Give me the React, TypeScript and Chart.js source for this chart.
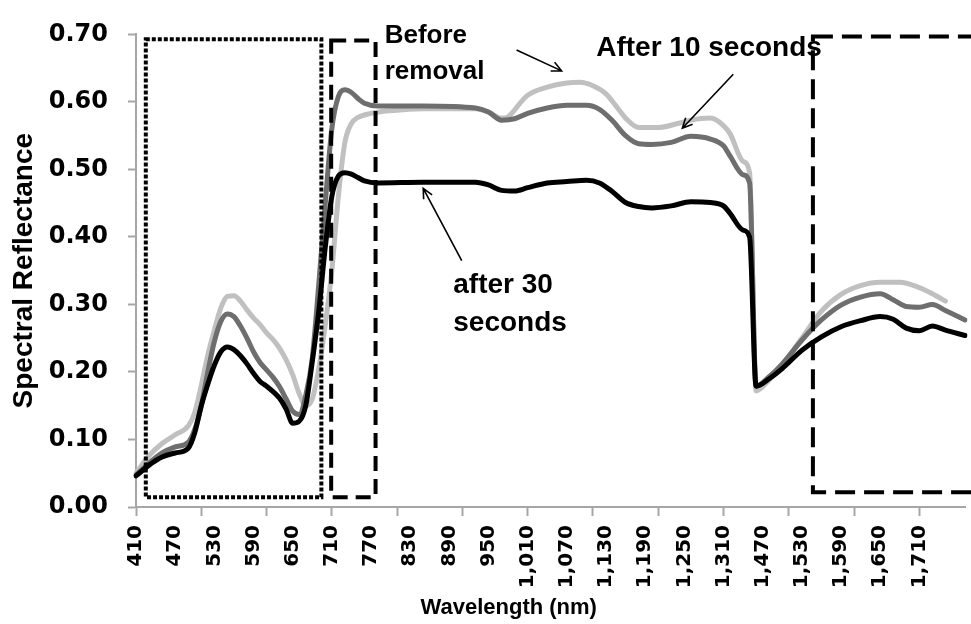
import React, { useEffect, useRef } from 'react';
import { Chart, registerables } from 'chart.js';

Chart.register(...registerables);

// ---- categories (wavelength, nm) ----
const categoryRanges: [number, number][] = [[410, 1350], [1460, 1780]];
const categoryStep = 10;
const wavelengths: number[] = [];
for (const [a, b] of categoryRanges) for (let w = a; w <= b; w += categoryStep) wavelengths.push(w);

const tickLabels = [410, 470, 530, 590, 650, 710, 770, 830, 890, 950, 1010, 1070, 1130, 1190, 1250, 1310, 1470, 1530, 1590, 1650, 1710];
const tickMarkEvery = 10;
const yTicksMax = 0.7;

// ---- series ----
const wl30 = [410, 430, 450, 470, 490, 500, 510, 520, 530, 540, 550, 560, 570, 580, 590, 600, 610, 620, 630, 640, 650, 660, 670, 680, 690, 700, 710, 720, 730, 740, 750, 760, 780, 850, 930, 950, 970, 990, 1010, 1040, 1070, 1100, 1120, 1140, 1160, 1180, 1200, 1230, 1260, 1290, 1310, 1320, 1340, 1350, 1460, 1480, 1500, 1530, 1560, 1590, 1620, 1650, 1670, 1690, 1710, 1730, 1750, 1780];
const refl30 = [0.046, 0.062, 0.074, 0.080, 0.087, 0.110, 0.150, 0.182, 0.210, 0.230, 0.237, 0.233, 0.224, 0.212, 0.198, 0.186, 0.179, 0.171, 0.161, 0.145, 0.124, 0.127, 0.150, 0.215, 0.290, 0.385, 0.460, 0.490, 0.495, 0.493, 0.488, 0.483, 0.480, 0.481, 0.481, 0.477, 0.469, 0.468, 0.473, 0.480, 0.482, 0.484, 0.480, 0.467, 0.451, 0.445, 0.443, 0.446, 0.452, 0.451, 0.446, 0.435, 0.410, 0.400, 0.179, 0.190, 0.205, 0.232, 0.252, 0.267, 0.276, 0.282, 0.278, 0.265, 0.261, 0.268, 0.262, 0.254];

const wl10 = [410, 430, 450, 470, 490, 500, 510, 520, 530, 540, 550, 560, 570, 580, 590, 600, 610, 620, 630, 640, 650, 660, 670, 680, 690, 700, 710, 720, 730, 740, 750, 760, 780, 850, 930, 950, 970, 990, 1010, 1040, 1070, 1100, 1120, 1140, 1160, 1180, 1200, 1230, 1260, 1290, 1310, 1320, 1340, 1350, 1460, 1480, 1500, 1530, 1560, 1590, 1620, 1650, 1670, 1690, 1710, 1730, 1750, 1780];
const refl10 = [0.047, 0.065, 0.080, 0.089, 0.096, 0.115, 0.150, 0.200, 0.245, 0.275, 0.286, 0.282, 0.268, 0.250, 0.230, 0.214, 0.203, 0.192, 0.178, 0.160, 0.142, 0.137, 0.165, 0.220, 0.330, 0.450, 0.560, 0.608, 0.618, 0.614, 0.605, 0.598, 0.594, 0.594, 0.591, 0.585, 0.573, 0.575, 0.583, 0.591, 0.595, 0.595, 0.589, 0.572, 0.550, 0.538, 0.537, 0.540, 0.549, 0.545, 0.535, 0.520, 0.492, 0.480, 0.179, 0.193, 0.212, 0.247, 0.277, 0.299, 0.311, 0.316, 0.307, 0.297, 0.296, 0.300, 0.291, 0.277];

const wlBefore = [410, 430, 450, 470, 490, 500, 510, 520, 530, 540, 550, 560, 570, 580, 590, 600, 610, 620, 630, 640, 650, 660, 670, 680, 690, 700, 710, 720, 730, 740, 750, 770, 800, 850, 930, 950, 970, 980, 1000, 1010, 1040, 1070, 1090, 1110, 1130, 1150, 1160, 1180, 1210, 1240, 1260, 1290, 1310, 1320, 1340, 1350, 1460, 1480, 1500, 1530, 1560, 1590, 1620, 1650, 1680, 1710, 1730, 1750];
const reflBefore = [0.050, 0.076, 0.094, 0.107, 0.120, 0.140, 0.180, 0.225, 0.262, 0.295, 0.312, 0.313, 0.305, 0.292, 0.280, 0.270, 0.258, 0.248, 0.235, 0.218, 0.196, 0.168, 0.150, 0.160, 0.205, 0.270, 0.350, 0.460, 0.540, 0.568, 0.577, 0.583, 0.587, 0.590, 0.590, 0.585, 0.576, 0.578, 0.600, 0.610, 0.622, 0.628, 0.629, 0.624, 0.612, 0.588, 0.576, 0.562, 0.562, 0.568, 0.573, 0.576, 0.565, 0.553, 0.512, 0.495, 0.172, 0.188, 0.210, 0.250, 0.290, 0.315, 0.328, 0.333, 0.333, 0.325, 0.316, 0.305];

// ---- annotations (wavelength / reflectance coordinates) ----
const boxes = [
  { wl0: 425, wl1: 694, v0: 0.0145, v1: 0.693, dash: [4, 2], width: 4 },
  { wl0: 709, wl1: 777, v0: 0.0145, v1: 0.691, dash: [15, 8], width: 4 },
  { wl0: 1547, wl1: 1830, v0: 0.022, v1: 0.697, dash: [20, 9], width: 4 },
];
const notes = [
  { text: 'Before', wl: 791, v: 0.6875, size: 26 },
  { text: 'removal', wl: 791, v: 0.634, size: 26 },
  { text: 'After 10 seconds', wl: 1115, v: 0.668, size: 28 },
  { text: 'after 30', wl: 896, v: 0.317, size: 28 },
  { text: 'seconds', wl: 896, v: 0.2605, size: 28 },
];
const arrows = [
  { wl0: 993, v0: 0.677, wl1: 1062, v1: 0.646 },
  { wl0: 1325, v0: 0.641, wl1: 1247, v1: 0.561 },
  { wl0: 909, v0: 0.365, wl1: 850, v1: 0.472 },
];
const xTitle = { text: 'Wavelength (nm)', wl: 981 };

const axisGray = '#a6a6a6';
const ARIAL = '"Liberation Sans", Arial, sans-serif';
const WIDE = '"DejaVu Sans", sans-serif';

function wlToIndex(wl: number): number {
  const n = wavelengths.length;
  if (wl <= wavelengths[0]) return (wl - wavelengths[0]) / categoryStep;
  if (wl >= wavelengths[n - 1]) return n - 1 + (wl - wavelengths[n - 1]) / categoryStep;
  for (let i = 0; i < n - 1; i++) {
    const a = wavelengths[i], b = wavelengths[i + 1];
    if (wl >= a && wl <= b) return i + (wl - a) / (b - a);
  }
  return 0;
}

const annotationPlugin = {
  id: 'spectralAnnotations',
  afterDatasetsDraw(chart: any) {
    const { ctx } = chart;
    const xs = chart.scales.x;
    const ys = chart.scales.y;
    const px = (wl: number) => xs.getPixelForValue(wlToIndex(wl));
    const py = (v: number) => ys.getPixelForValue(v);
    ctx.save();
    ctx.strokeStyle = '#000';
    ctx.lineCap = 'butt';
    for (const b of boxes) {
      ctx.lineWidth = b.width;
      ctx.setLineDash(b.dash);
      ctx.beginPath();
      ctx.rect(px(b.wl0), py(b.v1), px(b.wl1) - px(b.wl0), py(b.v0) - py(b.v1));
      ctx.stroke();
    }
    ctx.restore();
  },
  afterDraw(chart: any) {
    const { ctx } = chart;
    const xs = chart.scales.x;
    const ys = chart.scales.y;
    const px = (wl: number) => xs.getPixelForValue(wlToIndex(wl));
    const py = (v: number) => ys.getPixelForValue(v);
    ctx.save();
    ctx.fillStyle = '#000';
    ctx.textAlign = 'left';
    ctx.textBaseline = 'alphabetic';
    for (const n of notes) {
      ctx.font = `bold ${n.size}px ${ARIAL}`;
      ctx.fillText(n.text, px(n.wl), py(n.v));
    }

    ctx.strokeStyle = '#000';
    ctx.lineWidth = 1.6;
    ctx.setLineDash([]);
    for (const a of arrows) {
      const x0 = px(a.wl0), y0 = py(a.v0), x1 = px(a.wl1), y1 = py(a.v1);
      ctx.beginPath();
      ctx.moveTo(x0, y0);
      ctx.lineTo(x1, y1);
      const ang = Math.atan2(y1 - y0, x1 - x0);
      const len = 11;
      ctx.moveTo(x1 - len * Math.cos(ang - 0.45), y1 - len * Math.sin(ang - 0.45));
      ctx.lineTo(x1, y1);
      ctx.lineTo(x1 - len * Math.cos(ang + 0.45), y1 - len * Math.sin(ang + 0.45));
      ctx.stroke();
    }

    ctx.font = `bold 22px ${ARIAL}`;
    ctx.textAlign = 'center';
    ctx.fillText(xTitle.text, px(xTitle.wl), chart.height - 10);
    ctx.restore();
  },
};

export default function App() {
  const ref = useRef<HTMLCanvasElement>(null);
  useEffect(() => {
    const canvas = ref.current!;
    const labels = wavelengths.map(String);
    const toPts = (wl: number[], r: number[]) => wl.map((w, i) => ({ x: String(w), y: r[i] }));
    const lineStyle = {
      borderWidth: 5,
      pointRadius: 0,
      fill: false,
      tension: 0.4,
      cubicInterpolationMode: 'monotone' as const,
      borderCapStyle: 'round' as const,
      borderJoinStyle: 'round' as const,
    };
    const chart = new Chart(canvas, {
      type: 'line',
      data: {
        labels,
        datasets: [
          { label: 'after 30 seconds', data: toPts(wl30, refl30), borderColor: '#000000', ...lineStyle },
          { label: 'After 10 seconds', data: toPts(wl10, refl10), borderColor: '#6e6e6e', ...lineStyle },
          { label: 'Before removal', data: toPts(wlBefore, reflBefore), borderColor: '#c0c0c0', ...lineStyle },
        ],
      },
      options: {
        responsive: false,
        animation: false,
        events: [],
        layout: { padding: { top: 24, right: 6, left: 0, bottom: 0 } },
        plugins: { legend: { display: false }, tooltip: { enabled: false } },
        scales: {
          x: {
            type: 'category',
            position: 'bottom',
            weight: 1,
            offset: false,
            grid: { display: false, drawTicks: false },
            border: { display: false },
            ticks: {
              autoSkip: false,
              maxRotation: 90,
              minRotation: 90,
              padding: 9,
              color: '#000',
              font: { family: WIDE, weight: 'bold', size: 20 },
              callback: (_v: any, i: number) =>
                tickLabels.includes(wavelengths[i]) ? wavelengths[i].toLocaleString('en-US') : '',
            },
            afterFit: (s: any) => { s.height = 108; s.paddingLeft = 0; s.paddingRight = 0; },
          },
          x2: {
            type: 'category',
            axis: 'x',
            position: 'bottom',
            weight: 0,
            offset: false,
            grid: {
              display: true,
              drawOnChartArea: false,
              drawTicks: true,
              tickLength: 9,
              tickWidth: 2,
              tickColor: (c: any) => (c.index % tickMarkEvery === 0 ? axisGray : 'rgba(0,0,0,0)'),
            },
            border: { display: true, color: axisGray, width: 2 },
            ticks: { display: false, autoSkip: false },
            afterFit: (s: any) => { s.height = 9; s.paddingLeft = 0; s.paddingRight = 0; },
          },
          y: {
            position: 'left',
            min: 0,
            max: yTicksMax,
            grid: { drawOnChartArea: false, drawTicks: true, tickLength: 8, tickWidth: 2, color: axisGray },
            border: { color: axisGray, width: 2 },
            ticks: {
              stepSize: 0.1,
              padding: 20,
              color: '#000',
              font: { family: WIDE, weight: 'bold', size: 24 },
              callback: (v: any) => Number(v).toFixed(2),
            },
            title: {
              display: true,
              text: 'Spectral Reflectance',
              color: '#000',
              font: { family: ARIAL, weight: 'bold', size: 28 },
              padding: { top: 7, bottom: 0 },
            },
            afterFit: (s: any) => { s.width = 136; },
          },
        },
      } as any,
      plugins: [annotationPlugin],
    });
    return () => chart.destroy();
  }, []);

  return (
    <div style={{ position: 'absolute', left: 0, top: 0, width: 971, height: 624, background: '#fff' }}>
      <canvas ref={ref} width={971} height={624} style={{ display: 'block' }} />
    </div>
  );
}
